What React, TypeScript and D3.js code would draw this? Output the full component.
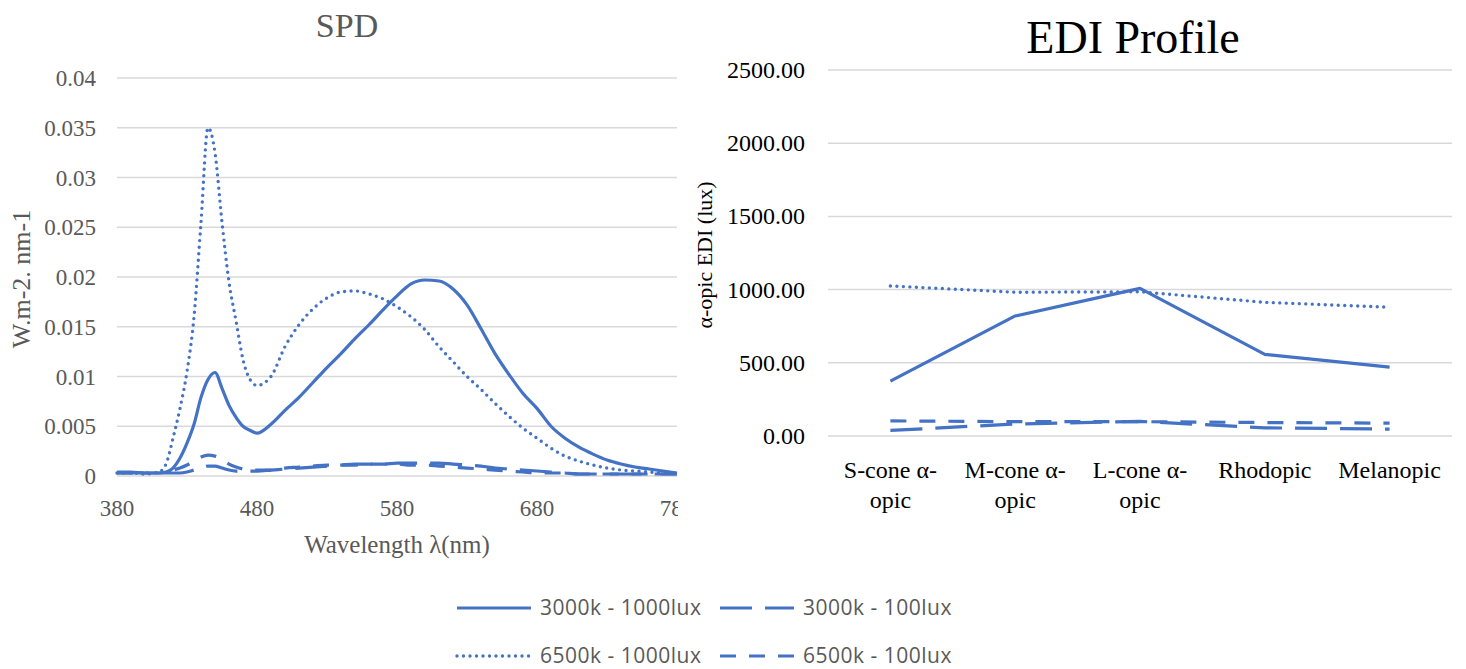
import React, { useEffect, useRef } from "react";
import * as d3 from "d3";

// SPD data (wavelength in nm)
const wavelengths = [
  380, 390, 400, 410, 415, 420, 425, 430, 435, 440, 445, 450, 455, 460, 465, 470, 475, 480,
  490, 500, 510, 520, 530, 540, 550, 560, 570, 580, 590, 600, 610, 620, 630, 640, 650, 660,
  670, 680, 690, 700, 710, 720, 730, 740, 750, 760, 770, 780,
];
const spd3000k1000 = [
  0.0003, 0.0003, 0.0003, 0.0003, 0.0004, 0.0008, 0.0018, 0.0033, 0.0052, 0.0079, 0.0097, 0.0104,
  0.0088, 0.0071, 0.0059, 0.005, 0.0046, 0.0043, 0.0052, 0.0066, 0.0079, 0.0094, 0.0109, 0.0123,
  0.0138, 0.0152, 0.0167, 0.0181, 0.0193, 0.0197, 0.0196, 0.0188, 0.0172, 0.0148, 0.0123, 0.0102,
  0.0083, 0.0068, 0.005, 0.0038, 0.0029, 0.0022, 0.0016, 0.0012, 0.0009, 0.0007, 0.0005, 0.0003,
];
const spd6500k1000 = [
  0.0003, 0.0003, 0.0002, 0.0004, 0.0012, 0.0038, 0.0068, 0.0105, 0.016, 0.0255, 0.035, 0.0325,
  0.0255, 0.0195, 0.0156, 0.0117, 0.0097, 0.0091, 0.01, 0.013, 0.0152, 0.0168, 0.0179, 0.0185,
  0.0186, 0.0183, 0.0178, 0.017, 0.016, 0.0147, 0.013, 0.0115, 0.01, 0.0087, 0.0073, 0.006,
  0.0048, 0.0038, 0.0028, 0.002, 0.0015, 0.0011, 0.0008, 0.0006, 0.0005, 0.0004, 0.0003, 0.0003,
];
const spd3000k100 = [
  0.0004, 0.0004, 0.0003, 0.0003, 0.0003, 0.0003, 0.0003, 0.0004, 0.0006, 0.0008, 0.001, 0.001,
  0.0008, 0.0006, 0.0005, 0.0005, 0.0005, 0.0005, 0.0006, 0.0007, 0.0008, 0.0009, 0.001, 0.0011,
  0.0012, 0.0012, 0.0012, 0.0013, 0.0013, 0.0013, 0.0013, 0.0012, 0.0011, 0.001, 0.0008, 0.0007,
  0.0006, 0.0005, 0.0004, 0.0003, 0.0002, 0.0002, 0.0002, 0.0002, 0.0002, 0.0002, 0.0002, 0.0002,
];
const spd6500k100 = [
  0.0003, 0.0003, 0.0003, 0.0003, 0.0004, 0.0006, 0.0008, 0.0011, 0.0015, 0.0019, 0.0021, 0.002,
  0.0016, 0.0012, 0.0009, 0.0007, 0.0006, 0.0006, 0.0006, 0.0008, 0.0009, 0.001, 0.0011, 0.0011,
  0.0011, 0.0012, 0.0012, 0.0012, 0.0011, 0.0011, 0.001, 0.0009, 0.0008, 0.0007, 0.0006, 0.0005,
  0.0004, 0.0003, 0.0003, 0.0003, 0.0002, 0.0002, 0.0002, 0.0002, 0.0002, 0.0002, 0.0002, 0.0002,
];
const spdYTicks = [0, 0.005, 0.01, 0.015, 0.02, 0.025, 0.03, 0.035, 0.04];
const spdXTicks = [380, 480, 580, 680, 780];

// EDI profile data
const ediCategories = ["S-cone α-opic", "M-cone α-opic", "L-cone α-opic", "Rhodopic", "Melanopic"];
const edi3000k1000 = [375, 820, 1008, 558, 470];
const edi3000k100 = [38, 82, 100, 56, 47];
const edi6500k1000 = [1025, 982, 985, 913, 880];
const edi6500k100 = [103, 98, 98, 92, 88];
const ediYTicks = [0, 500, 1000, 1500, 2000, 2500];

const seriesNames = ["3000k - 1000lux", "3000k - 100lux", "6500k - 1000lux", "6500k - 100lux"];

const BLUE = "#4472C4";
const GRID = "#d9d9d9";
const GRAY_TEXT = "#595959";
const SERIF = "'Liberation Serif', 'Times New Roman', serif";

// dash style per series
const dashes = { solid: null, longDash: "32,13", dot: "0,6.5", dash: "16,13" };

const App = () => {
  const svgRef = useRef(null);

  useEffect(() => {
    draw();
  }, []);

  const draw = () => {
    const svg = d3.select(svgRef.current);
    svg.selectAll("*").remove();

    const styleLine = (sel, dash) => {
      sel
        .attr("fill", "none")
        .attr("stroke", BLUE)
        .attr("stroke-width", 3.2)
        .attr("stroke-linejoin", "round");
      if (dash === dashes.dot) sel.attr("stroke-linecap", "round").attr("stroke-width", 3.4);
      if (dash) sel.attr("stroke-dasharray", dash);
    };

    // ---------- SPD chart ----------
    svg
      .append("clipPath")
      .attr("id", "leftClip")
      .append("rect")
      .attr("x", 0)
      .attr("y", 0)
      .attr("width", 678)
      .attr("height", 669);

    const left = svg.append("g").attr("clip-path", "url(#leftClip)");

    const x = d3.scaleLinear().domain([380, 780]).range([117, 677]);
    const y = d3.scaleLinear().domain([0, 0.04]).range([476, 78]);

    left
      .append("g")
      .selectAll("line")
      .data(spdYTicks)
      .join("line")
      .attr("x1", x(380))
      .attr("x2", x(780))
      .attr("y1", (d) => y(d))
      .attr("y2", (d) => y(d))
      .attr("stroke", GRID)
      .attr("stroke-width", 1.5);

    left
      .append("g")
      .selectAll("text")
      .data(spdYTicks)
      .join("text")
      .attr("x", 96)
      .attr("y", (d) => y(d) + 8)
      .attr("text-anchor", "end")
      .attr("font-family", SERIF)
      .attr("font-size", 23)
      .attr("fill", GRAY_TEXT)
      .text((d) => String(+d.toFixed(3)));

    left
      .append("g")
      .selectAll("text")
      .data(spdXTicks)
      .join("text")
      .attr("x", (d) => x(d))
      .attr("y", 516)
      .attr("text-anchor", "middle")
      .attr("font-family", SERIF)
      .attr("font-size", 23)
      .attr("fill", GRAY_TEXT)
      .text((d) => d);

    const spdSeries = [
      { values: spd3000k100, dash: dashes.longDash },
      { values: spd6500k100, dash: dashes.dash },
      { values: spd6500k1000, dash: dashes.dot },
      { values: spd3000k1000, dash: dashes.solid },
    ];
    const spdLine = d3
      .line()
      .x((d) => x(d[0]))
      .y((d) => y(d[1]))
      .curve(d3.curveMonotoneX);

    spdSeries.forEach((s) => {
      const pts = wavelengths.map((w, i) => [w, s.values[i]]);
      left.append("path").attr("d", spdLine(pts)).call(styleLine, s.dash);
    });

    left
      .append("text")
      .attr("x", 347)
      .attr("y", 37)
      .attr("text-anchor", "middle")
      .attr("font-family", SERIF)
      .attr("font-size", 34)
      .attr("fill", GRAY_TEXT)
      .text("SPD");

    left
      .append("text")
      .attr("x", 397)
      .attr("y", 553)
      .attr("text-anchor", "middle")
      .attr("font-family", SERIF)
      .attr("font-size", 25)
      .attr("fill", GRAY_TEXT)
      .text("Wavelength λ(nm)");

    left
      .append("text")
      .attr("transform", "translate(30,279) rotate(-90)")
      .attr("text-anchor", "middle")
      .attr("font-family", SERIF)
      .attr("font-size", 26)
      .attr("fill", GRAY_TEXT)
      .text("W.m-2. nm-1");

    // ---------- EDI chart ----------
    const right = svg.append("g");
    const xb = d3.scaleBand().domain(ediCategories).range([828, 1452]);
    const cx = (c) => xb(c) + xb.bandwidth() / 2;
    const y2 = d3.scaleLinear().domain([0, 2500]).range([436, 70]);

    right
      .append("g")
      .selectAll("line")
      .data(ediYTicks)
      .join("line")
      .attr("x1", 828)
      .attr("x2", 1452)
      .attr("y1", (d) => y2(d))
      .attr("y2", (d) => y2(d))
      .attr("stroke", GRID)
      .attr("stroke-width", 1.5);

    right
      .append("g")
      .selectAll("text")
      .data(ediYTicks)
      .join("text")
      .attr("x", 805)
      .attr("y", (d) => y2(d) + 8)
      .attr("text-anchor", "end")
      .attr("font-family", SERIF)
      .attr("font-size", 24)
      .attr("fill", "#000")
      .text((d) => d3.format(".2f")(d));

    const wrap = (c) => (c.includes(" α-opic") ? [c.replace(" α-opic", " α-"), "opic"] : [c]);
    right
      .append("g")
      .selectAll("text")
      .data(ediCategories)
      .join("text")
      .attr("text-anchor", "middle")
      .attr("font-family", SERIF)
      .attr("font-size", 24)
      .attr("fill", "#000")
      .each(function (c) {
        wrap(c).forEach((ln, i) => {
          d3.select(this)
            .append("tspan")
            .attr("x", cx(c))
            .attr("y", 478 + i * 30)
            .text(ln);
        });
      });

    const ediSeries = [
      { values: edi6500k100, dash: dashes.dash },
      { values: edi3000k100, dash: dashes.longDash },
      { values: edi6500k1000, dash: dashes.dot },
      { values: edi3000k1000, dash: dashes.solid },
    ];
    const ediLine = d3
      .line()
      .x((d) => cx(d[0]))
      .y((d) => y2(d[1]));
    ediSeries.forEach((s) => {
      const pts = ediCategories.map((c, i) => [c, s.values[i]]);
      right.append("path").attr("d", ediLine(pts)).call(styleLine, s.dash);
    });

    right
      .append("text")
      .attr("x", 1133)
      .attr("y", 53)
      .attr("text-anchor", "middle")
      .attr("font-family", SERIF)
      .attr("font-size", 46)
      .attr("fill", "#000")
      .text("EDI Profile");

    right
      .append("text")
      .attr("transform", "translate(712,255) rotate(-90)")
      .attr("text-anchor", "middle")
      .attr("font-family", SERIF)
      .attr("font-size", 22)
      .attr("fill", "#000")
      .text("α-opic EDI (lux)");

    // ---------- Legend ----------
    const legendItems = [
      { name: seriesNames[0], dash: dashes.solid, x: 457, y: 608 },
      { name: seriesNames[1], dash: dashes.longDash, x: 720, y: 608 },
      { name: seriesNames[2], dash: dashes.dot, x: 457, y: 656 },
      { name: seriesNames[3], dash: dashes.dash, x: 720, y: 656 },
    ];
    const legend = svg.append("g");
    legendItems.forEach((it) => {
      legend
        .append("line")
        .attr("x1", it.x)
        .attr("x2", it.x + 74)
        .attr("y1", it.y)
        .attr("y2", it.y)
        .call(styleLine, it.dash);
      legend
        .append("text")
        .attr("x", it.x + 83)
        .attr("y", it.y + 7)
        .attr("font-family", "'Open Sans', 'Liberation Sans', sans-serif")
        .attr("font-size", 21)
        .attr("letter-spacing", 0.5)
        .attr("fill", GRAY_TEXT)
        .text(it.name);
    });
  };

  return (
    <div>
      <svg
        ref={svgRef}
        width={1466}
        height={669}
        style={{ position: "absolute", left: 0, top: 0, background: "#fff" }}
      ></svg>
    </div>
  );
};

export default App;
